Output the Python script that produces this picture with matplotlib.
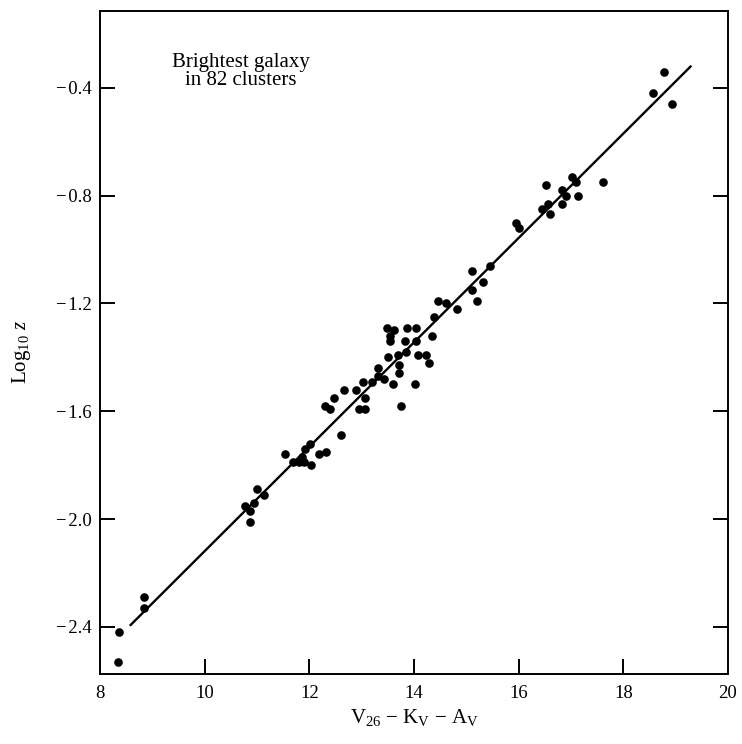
import matplotlib
matplotlib.use("Agg")
import matplotlib.pyplot as plt

# ---- data ----
mag = [8.35, 8.36, 8.84, 8.84, 10.77, 10.87, 10.87, 10.95, 11.00, 11.13,
       11.54, 11.69, 11.80, 11.86, 11.89, 11.91, 12.01, 12.04, 12.19, 12.31,
       12.29, 12.40, 12.48, 12.61, 12.67, 12.89, 12.95, 13.03, 13.07, 13.07,
       13.20, 13.31, 13.31, 13.42, 13.50, 13.60, 13.69, 13.71, 13.71, 13.76,
       13.84, 14.01, 13.48, 13.54, 13.61, 13.55, 13.86, 14.04, 13.82, 14.03,
       14.07, 14.22, 14.29, 14.34, 14.39, 14.46, 14.62, 14.82, 15.10, 15.10,
       15.20, 15.31, 15.46, 15.95, 16.01, 16.45, 16.52, 16.57, 16.60, 16.83,
       16.83, 16.90, 17.02, 17.10, 17.13, 17.62, 18.57, 18.77, 18.93]
logz = [-2.53, -2.42, -2.29, -2.33, -1.95, -1.97, -2.01, -1.94, -1.89, -1.91,
        -1.76, -1.79, -1.79, -1.77, -1.79, -1.74, -1.72, -1.80, -1.76, -1.75,
        -1.58, -1.59, -1.55, -1.69, -1.52, -1.52, -1.59, -1.49, -1.55, -1.59,
        -1.49, -1.44, -1.47, -1.48, -1.40, -1.50, -1.39, -1.43, -1.46, -1.58,
        -1.38, -1.50, -1.29, -1.32, -1.30, -1.34, -1.29, -1.29, -1.34, -1.34,
        -1.39, -1.39, -1.42, -1.32, -1.25, -1.19, -1.20, -1.22, -1.08, -1.15,
        -1.19, -1.12, -1.06, -0.90, -0.92, -0.85, -0.76, -0.83, -0.87, -0.78,
        -0.83, -0.80, -0.73, -0.75, -0.80, -0.75, -0.42, -0.34, -0.46]

fit_x = [8.57, 19.30]
fit_y = [-2.396, -0.318]

x_ticks = [10, 12, 14, 16, 18]
x_tick_labels = ["10", "12", "14", "16", "18"]
y_ticks = [-0.4, -0.8, -1.2, -1.6, -2.0, -2.4]

plt.rcParams['font.family'] = ['Liberation Serif', 'DejaVu Serif']
plt.rcParams['mathtext.fontset'] = 'custom'
plt.rcParams['mathtext.rm'] = 'Liberation Serif'
plt.rcParams['mathtext.it'] = 'Liberation Serif:italic'

fig = plt.figure(figsize=(7.42, 7.44), dpi=100)
ax = fig.add_axes([100/742, 1 - 674/744, 628/742, 663/744])

ax.plot(fit_x, fit_y, color='black', lw=1.7, solid_capstyle='butt')
ax.plot(mag, logz, 'o', color='black', markersize=6.2, markeredgewidth=0)

ax.set_xlim(8, 20)
ax.set_ylim(-2.575, -0.115)

ax.set_xticks(x_ticks + [8, 20])
ax.set_xticklabels(x_tick_labels + ["8", "20"])
ax.set_yticks(y_ticks)
ax.set_yticklabels([f"{v:.1f}".replace('-', '\u2212\u200a') for v in y_ticks])

ax.tick_params(axis='x', direction='in', length=11, width=1.4, pad=8,
               labelsize=13.5, top=False)
ax.tick_params(axis='y', direction='in', length=11, width=1.4, pad=6,
               labelsize=13.5, left=True, right=True)
# hide the corner tick marks at 8 and 20 (labels kept)
for t in ax.xaxis.get_major_ticks():
    if t.get_loc() in (8, 20):
        t.tick1line.set_visible(False)

for s in ax.spines.values():
    s.set_linewidth(1.4)

ax.set_xlabel("V$_{26}$ \u2212 K$_{\\rm V}$ \u2212 A$_{\\rm V}$", fontsize=15)
ax.xaxis.set_label_coords(0.5, -0.05)
ax.set_ylabel(r"Log$_{10}$ $z$", fontsize=15)
ax.yaxis.set_label_coords(-0.107, 0.486)

ax.text(0.224, 0.909, "Brightest galaxy\nin 82 clusters", transform=ax.transAxes,
        ha='center', va='center', fontsize=15, linespacing=0.9)

fig.savefig("out.png", dpi=100)
